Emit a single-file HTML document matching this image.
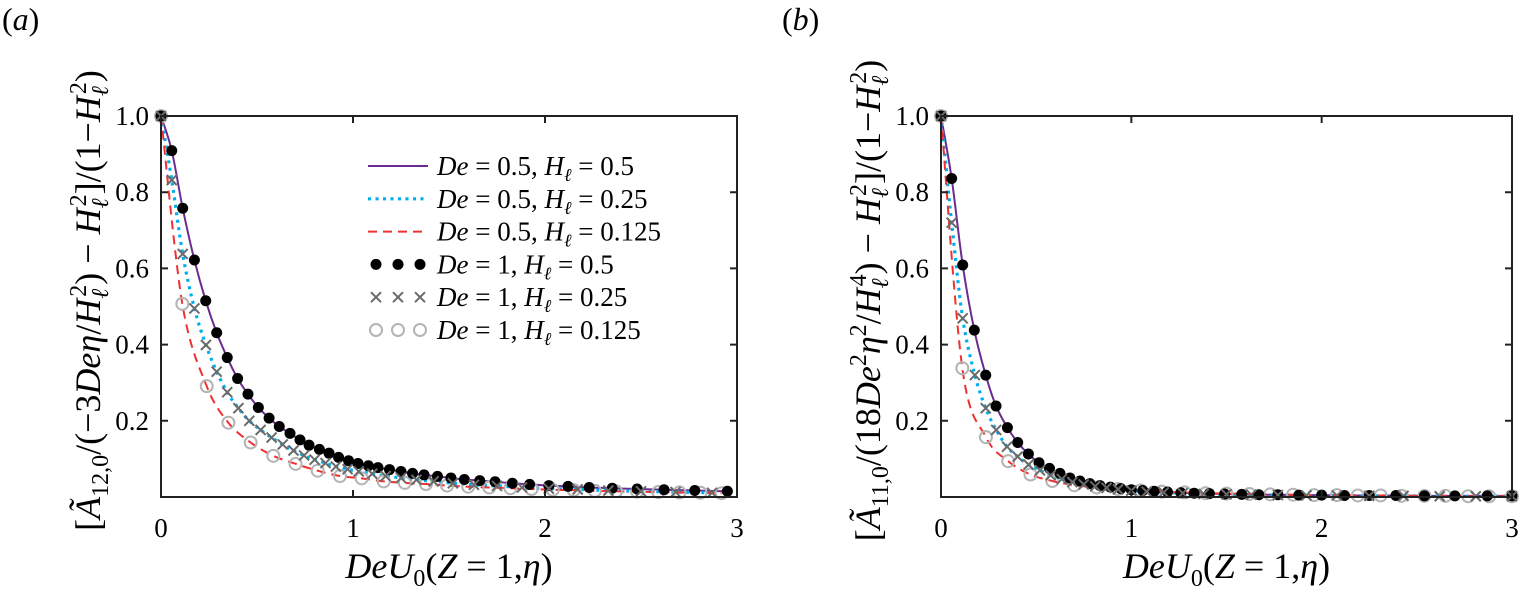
<!DOCTYPE html>
<html><head><meta charset="utf-8"><style>
html,body{margin:0;padding:0;background:#fff;}
svg{display:block;}
svg text{font-family:"Liberation Serif","Times New Roman",serif;}
</style></head><body>
<svg id="fig" width="1521" height="601" viewBox="0 0 1521 601"></svg>
<script>
// ---------- data (panel a) ----------
const a_dot_x=[0,.056,.113,.174,.233,.29,.345,.399,.453,.507,.563,.616,.672,.724,.771,.825,.875,.925,.977,1.026,1.08,1.13,1.19,1.25,1.31,1.37,1.44,1.51,1.58,1.66,1.74,1.83,1.92,2.02,2.12,2.23,2.35,2.48,2.62,2.78,2.95];
const a_dot_y=[1,.909,.758,.622,.515,.431,.366,.311,.270,.235,.207,.185,.167,.150,.136,.125,.115,.104,.095,.088,.082,.077,.072,.067,.062,.058,.054,.050,.046,.043,.040,.036,.033,.030,.028,.025,.023,.021,.019,.017,.015];
const a_crs_x=[0,.056,.113,.174,.234,.29,.345,.403,.46,.519,.576,.634,.69,.745,.8,.857,.911,.972,1.03,1.1,1.17,1.25,1.33,1.42,1.52,1.63,1.75,1.88,2.02,2.17,2.33,2.5,2.68,2.87];
const a_crs_y=[1,.832,.638,.495,.399,.329,.275,.233,.2,.176,.156,.138,.122,.109,.098,.089,.08,.073,.067,.061,.055,.05,.045,.041,.036,.032,.029,.025,.022,.02,.017,.015,.013,.011];
const a_cir_x=[0,.111,.238,.351,.467,.585,.701,.816,.932,1.045,1.16,1.27,1.38,1.49,1.6,1.71,1.82,1.93,2.04,2.15,2.26,2.37,2.48,2.59,2.7,2.81,2.92];
const a_cir_y=[1,.507,.291,.195,.143,.108,.087,.069,.055,.049,.041,.037,.034,.030,.027,.025,.023,.021,.019,.018,.016,.015,.014,.013,.012,.011,.010];
// ---------- data (panel b) ----------
const b_dot_x=[0,.056,.114,.175,.235,.289,.349,.403,.459,.515,.57,.625,.677,.73,.782,.835,.89,.945,1.0,1.06,1.12,1.19,1.26,1.33,1.41,1.49,1.58,1.67,1.77,1.88,2.0,2.12,2.25,2.39,2.54,2.7,2.87,3.0];
const b_dot_y=[1,.836,.609,.438,.320,.239,.182,.143,.113,.090,.075,.062,.050,.042,.035,.030,.026,.022,.019,.017,.015,.013,.011,.010,.009,.008,.007,.006,.006,.005,.005,.004,.004,.004,.003,.003,.003,.003];
const b_crs_x=[0,.056,.114,.178,.235,.29,.347,.403,.46,.52,.576,.635,.69,.75,.81,.87,.93,1.0,1.08,1.17,1.27,1.38,1.5,1.63,1.77,1.92,2.08,2.25,2.43,2.62,2.81,3.0];
const b_crs_y=[1,.72,.469,.32,.233,.176,.132,.106,.085,.07,.057,.047,.039,.033,.028,.024,.020,.017,.014,.012,.010,.008,.007,.006,.005,.004,.004,.003,.003,.002,.002,.002];
const b_cir_x=[0,.112,.236,.353,.47,.585,.70,.818,.93,1.05,1.16,1.28,1.39,1.5,1.62,1.73,1.85,1.96,2.08,2.19,2.31,2.42,2.54,2.65,2.77,2.88,3.0];
const b_cir_y=[1,.338,.157,.094,.059,.042,.031,.025,.021,.017,.014,.012,.010,.009,.008,.007,.006,.005,.005,.004,.004,.003,.003,.003,.002,.002,.002];
const xTicks=[0,1,2,3];
const xTickLabels=["0","1","2","3"];
const yTicks=[0.2,0.4,0.6,0.8,1.0];
const yTickLabels=["0.2","0.4","0.6","0.8","1.0"];
const legendLabels=[["0.5","0.5"],["0.5","0.25"],["0.5","0.125"],["1","0.5"],["1","0.25"],["1","0.125"]];

const NS="http://www.w3.org/2000/svg";
const svg=document.getElementById('fig');
function mk(tag,attrs,parent){const e=document.createElementNS(NS,tag);for(const k in attrs)e.setAttribute(k,attrs[k]);(parent||svg).appendChild(e);return e;}
function smooth(pts){let d="M"+pts[0][0]+","+pts[0][1];for(let i=0;i<pts.length-1;i++){const p0=pts[Math.max(i-1,0)],p1=pts[i],p2=pts[i+1],p3=pts[Math.min(i+2,pts.length-1)];const c1x=p1[0]+(p2[0]-p0[0])/6,c1y=p1[1]+(p2[1]-p0[1])/6,c2x=p2[0]-(p3[0]-p1[0])/6,c2y=p2[1]-(p3[1]-p1[1])/6;d+=" C"+c1x+","+c1y+" "+c2x+","+c2y+" "+p2[0]+","+p2[1];}return d;}
const I=s=>'<tspan font-style="italic">'+s+'</tspan>';
const SUB=s=>'<tspan font-size="24" baseline-shift="-8">'+s+'</tspan>';
const SUP=s=>'<tspan font-size="24" baseline-shift="14">'+s+'</tspan>';
const HL=p=>I('H')+'<tspan font-size="24" font-style="italic" baseline-shift="-8">ℓ</tspan><tspan font-size="24" dx="-8" baseline-shift="14">'+p+'</tspan>';

function panel(id,L,R,T,B,d,label,labX,titleX,sub,mid,legend){
  const g=mk('g',{});
  
  
  const sx=v=>L+(R-L)*v/3, sy=v=>B-(B-T)*v;
  const clip=mk('clipPath',{id:'clip'+id},g);mk('rect',{x:L,y:T-10,width:R-L+10,height:B-T+10},clip);
  const pg=mk('g',{'clip-path':'url(#clip'+id+')'},g);
  const lines=[[d[0],d[1],'#6a2c91',2,'none','line-de05-h05'],[d[2],d[3],'#00aef0',3.2,'3 4.5','line-de05-h025'],[d[4],d[5],'#f03030',2,'9 6','line-de05-h0125']];
  lines.forEach(l=>{const p=mk('path',{d:smooth(l[0].map((x,i)=>[sx(x),sy(l[1][i])])),fill:'none',stroke:l[2],'stroke-width':l[3],'stroke-dasharray':l[4]},pg);
    });
  d[4].forEach((x,i)=>{const c=mk('circle',{cx:sx(x),cy:sy(d[5][i]),r:6,fill:'none',stroke:'#b4b4b4','stroke-width':2},g);
    });
  d[0].forEach((x,i)=>{const c=mk('circle',{cx:sx(x),cy:sy(d[1][i]),r:5.5,fill:'#000'},g);
    });
  d[2].forEach((x,i)=>{const cx=sx(x),cy=sy(d[3][i]),s=5;const c=mk('path',{d:`M${cx-s},${cy-s}L${cx+s},${cy+s}M${cx-s},${cy+s}L${cx+s},${cy-s}`,stroke:'#6a6a6a','stroke-width':2},g);
    });
  const box=mk('rect',{x:L,y:T,width:R-L,height:B-T,fill:'none',stroke:'#222','stroke-width':2},g);
  
  xTicks.forEach((v,i)=>{const x=sx(v);mk('path',{d:`M${x},${B}v-7M${x},${T}v7`,stroke:'#222','stroke-width':2},g);
    const t=mk('text',{x:x,y:537,'font-size':27,'text-anchor':'middle'},g);t.textContent=xTickLabels[i];
    });
  yTicks.forEach((v,i)=>{const y=sy(v);mk('path',{d:`M${L},${y}h7M${R},${y}h-7`,stroke:'#222','stroke-width':2},g);
    const t=mk('text',{x:L-12,y:y+9,'font-size':27,'text-anchor':'end'},g);t.textContent=yTickLabels[i];
    });
  const pl=mk('text',{x:labX,y:30,'font-size':32},g);pl.innerHTML='('+I(label)+')';
  
  const xt=mk('text',{x:(L+R)/2,y:578,'font-size':36,'text-anchor':'middle'},g);
  xt.innerHTML=I('DeU')+SUB('0')+'('+I('Z')+' = 1,'+I('η')+')';
  
  const yt=mk('text',{x:0,y:0,'font-size':36,'text-anchor':'middle',transform:`translate(${titleX},${(T+B)/2-6}) rotate(-90)`},g);
  yt.innerHTML='['+I('Ã')+SUB(sub)+'/('+mid+') − '+HL('2')+']/(1−'+HL('2')+')';
  
  if(legend){
    const lg=mk('g',{},g);
    const st=[['#6a2c91',2,'none'],['#00aef0',3.2,'3 4.5'],['#f03030',2,'9 6']];
    legendLabels.forEach((lb,i)=>{const y=166+i*32.8;
      const e=mk('g',{},lg);
      if(i<3)mk('path',{d:`M368,${y}H428`,stroke:st[i][0],'stroke-width':st[i][1],'stroke-dasharray':st[i][2]},e);
      else [376,398,420].forEach(x=>{if(i==3)mk('circle',{cx:x,cy:y,r:5.5,fill:'#000'},e);
        else if(i==4)mk('path',{d:`M${x-5},${y-5}L${x+5},${y+5}M${x-5},${y+5}L${x+5},${y-5}`,stroke:'#6a6a6a','stroke-width':2},e);
        else mk('circle',{cx:x,cy:y,r:6,fill:'none',stroke:'#b4b4b4','stroke-width':2},e);});
      const t=mk('text',{x:437,y:y+9,'font-size':27},e);
      t.innerHTML=I('De')+' = '+lb[0]+', '+I('H')+'<tspan font-size="18" font-style="italic" baseline-shift="-6">ℓ</tspan> = '+lb[1];});
  }
}
panel('a',161,737,116,497,[a_dot_x,a_dot_y,a_crs_x,a_crs_y,a_cir_x,a_cir_y],'a',2,100,'12,0','−3'+I('Deη')+'/'+HL('2'),true);
panel('b',941,1512,116,497,[b_dot_x,b_dot_y,b_crs_x,b_crs_y,b_cir_x,b_cir_y],'b',782,880,'11,0','18'+I('De')+SUP('2')+I('η')+SUP('2')+'/'+HL('4'),false);
</script>
</body></html>
